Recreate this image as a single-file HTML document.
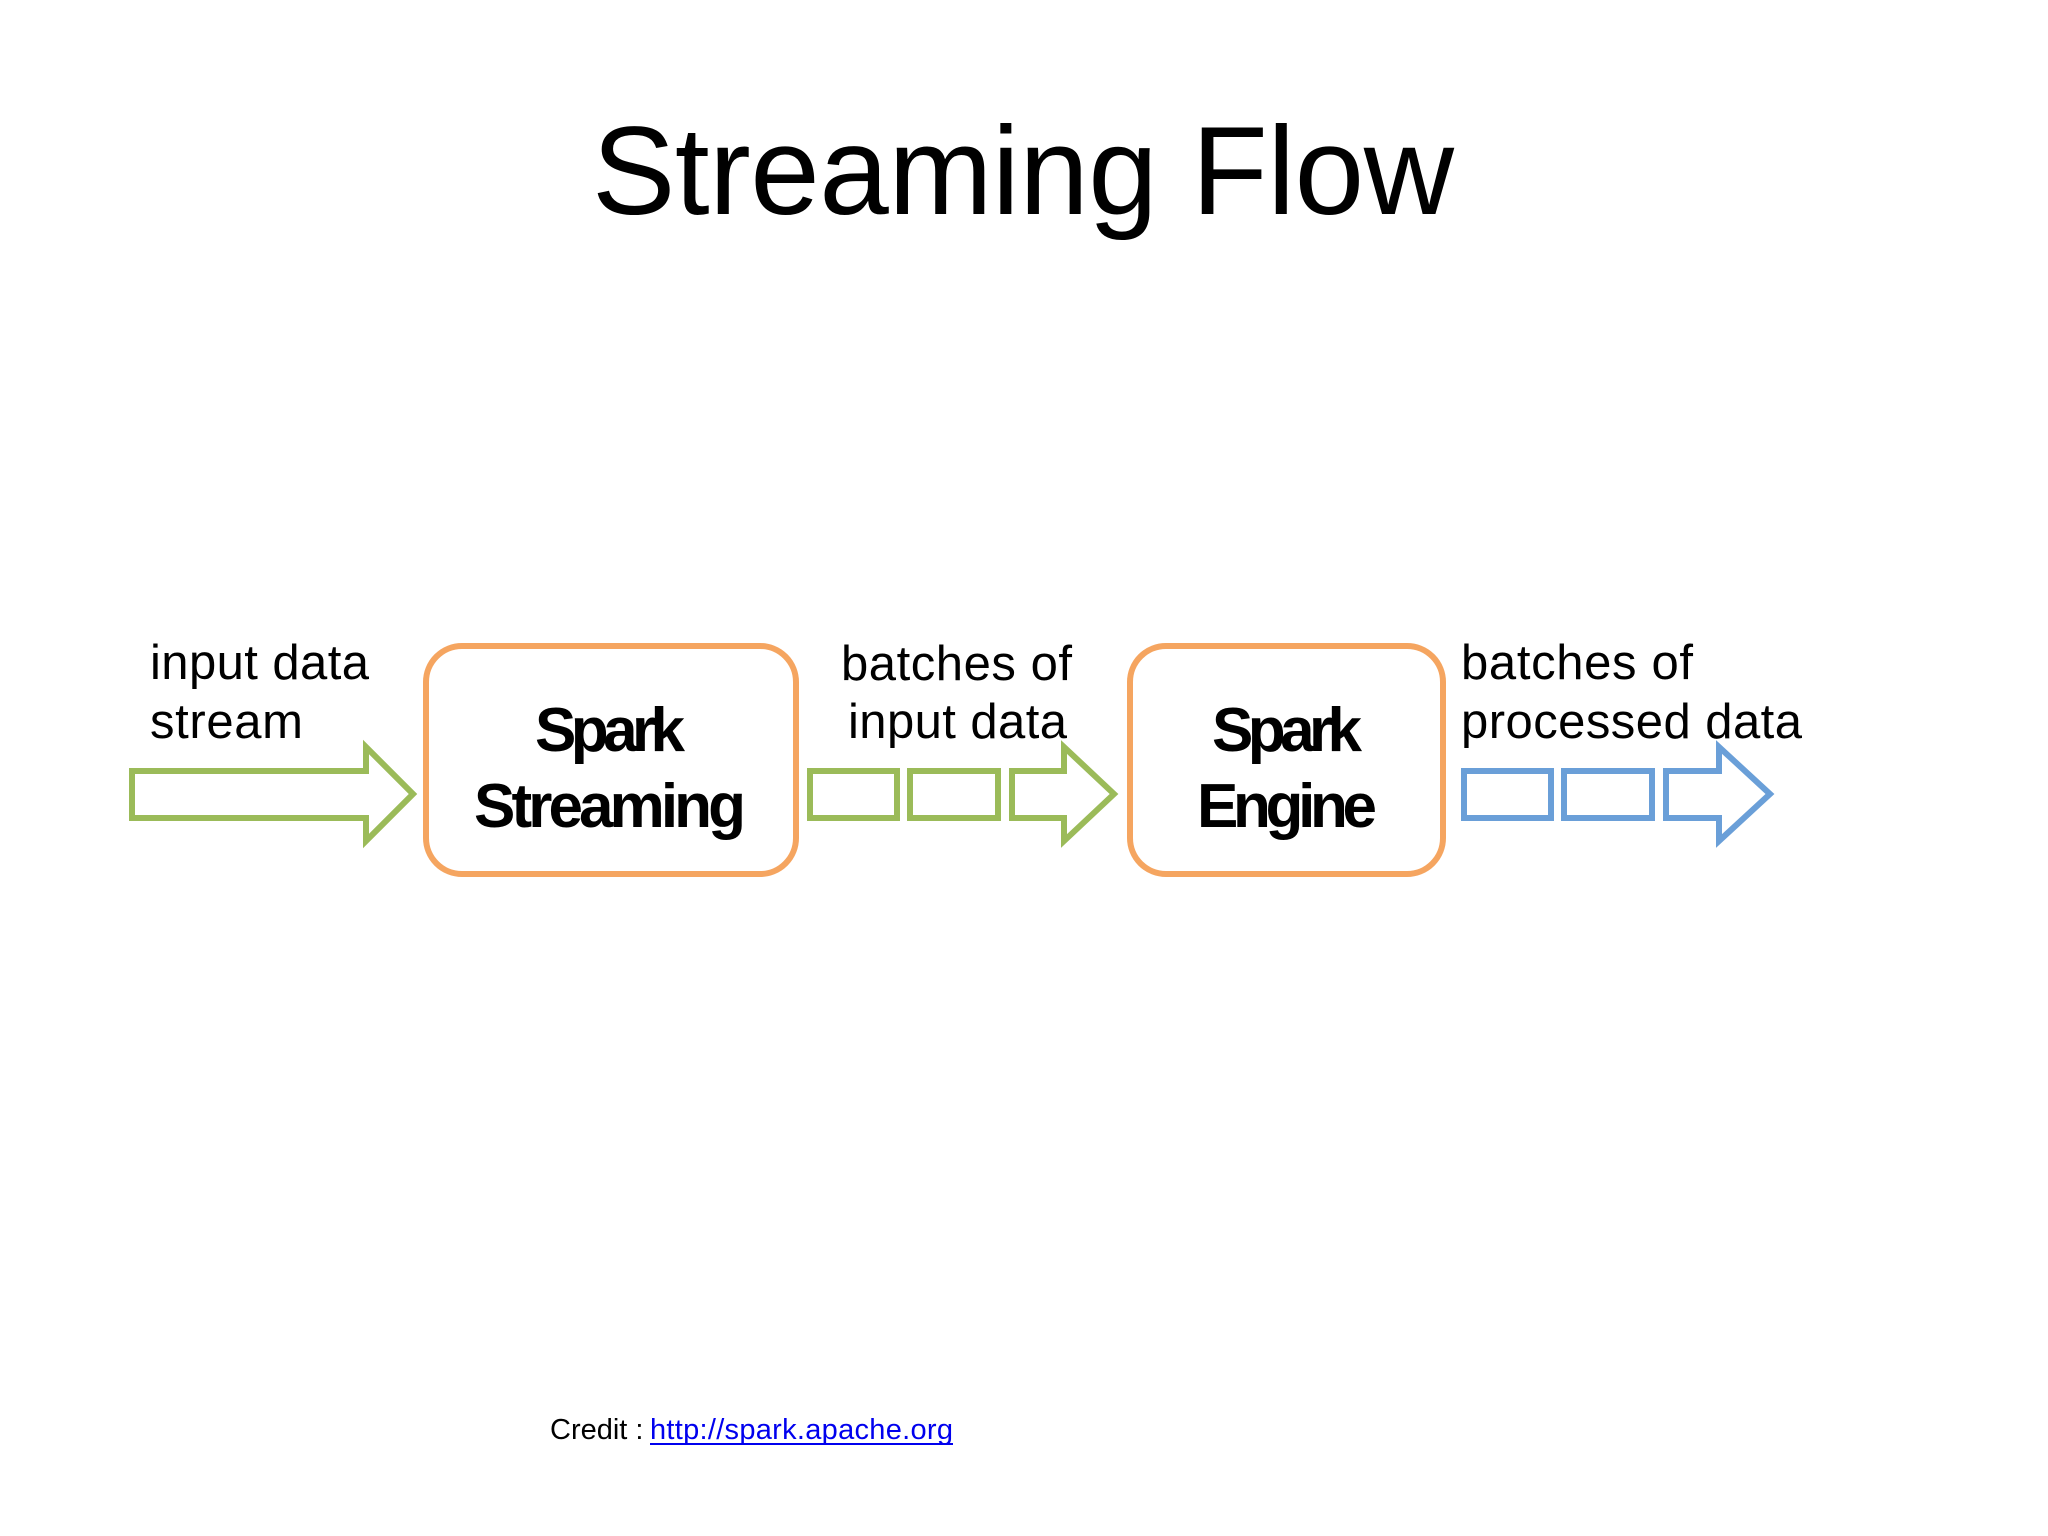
<!DOCTYPE html>
<html><head><meta charset="utf-8"><style>
html,body{margin:0;padding:0;background:#fff;}
svg{display:block;}
</style></head><body>
<svg width="2048" height="1536" viewBox="0 0 2048 1536" xmlns="http://www.w3.org/2000/svg">
<rect width="2048" height="1536" fill="#fff"/>
<text x="1023" y="214" text-anchor="middle" font-family="Liberation Sans, sans-serif" font-size="125" textLength="862" fill="#000">Streaming Flow</text>

<g fill="none" stroke-width="6" stroke-linejoin="miter">
<polygon points="132,771 366,771 366,747 413,794 366,841 366,818 132,818" stroke="#9BBB59"/>
<rect x="810" y="771" width="87" height="47" stroke="#9BBB59"/>
<rect x="910" y="771" width="88" height="47" stroke="#9BBB59"/>
<polygon points="1012,771 1064,771 1064,747 1114,794 1064,841 1064,818 1012,818" stroke="#9BBB59"/>
<rect x="1464" y="771" width="87" height="47" stroke="#6A9FD8"/>
<rect x="1564" y="771" width="88" height="47" stroke="#6A9FD8"/>
<polygon points="1666,771 1719,771 1719,747 1770,794 1719,841 1719,818 1666,818" stroke="#6A9FD8"/>
<rect x="426" y="646" width="370" height="228" rx="36" stroke="#F5A560" stroke-width="6"/>
<rect x="1130" y="646" width="313" height="228" rx="36" stroke="#F5A560" stroke-width="6"/>
</g>

<g font-family="Liberation Sans, sans-serif" font-weight="bold" font-size="62" fill="#000" text-anchor="middle">
<text x="610" y="751" textLength="150">Spark</text>
<text x="610" y="827" textLength="272">Streaming</text>
<text x="1287" y="751" textLength="150">Spark</text>
<text x="1287" y="827" textLength="180">Engine</text>
</g>

<g font-family="Liberation Sans, sans-serif" font-size="49" fill="#000">
<text x="150" y="679" textLength="219">input data</text>
<text x="150" y="738" textLength="153">stream</text>
<text x="841" y="680" textLength="231">batches of</text>
<text x="848" y="738" textLength="219">input data</text>
<text x="1461" y="679" textLength="232">batches of</text>
<text x="1461" y="738" textLength="341">processed data</text>
</g>

<text x="550" y="1439" font-family="Liberation Sans, sans-serif" font-size="29" fill="#000">Credit :</text>
<text x="650" y="1439" font-family="Liberation Sans, sans-serif" font-size="29" fill="#0000EE" textLength="303">http://spark.apache.org</text>
<line x1="650" y1="1444" x2="953" y2="1444" stroke="#0000EE" stroke-width="2"/>
</svg>
</body></html>
